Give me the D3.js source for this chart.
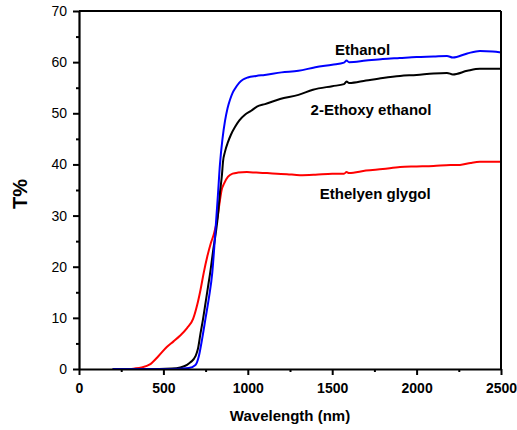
<!DOCTYPE html>
<html>
<head>
<meta charset="utf-8">
<script src="https://cdn.jsdelivr.net/npm/d3@7/dist/d3.min.js"></script>
<style>
  html, body { margin: 0; padding: 0; background: #fff; }
  svg { display: block; font-family: "Liberation Sans", Arial, sans-serif; }
</style>
</head>
<body>
<svg id="chart" width="517" height="430"></svg>
<script>
// Transmittance spectra (T%) of films prepared with different solvents
const ethanolWl = [200, 400, 550, 650, 690, 710, 730, 750, 770, 790, 806, 823, 835, 850, 865, 880, 895, 910, 924, 950, 972, 1000, 1050, 1100, 1200, 1300, 1400, 1500, 1570, 1585, 1600, 1700, 1800, 1900, 2000, 2100, 2180, 2215, 2300, 2375, 2450, 2500];
const ethanolT  = [0, 0, 0, 0.2, 0.8, 2.5, 6, 10, 14, 19, 26, 34, 40, 45, 48.5, 51, 52.7, 54, 54.8, 56, 56.6, 57, 57.3, 57.5, 58, 58.3, 59, 59.5, 59.9, 60.3, 60, 60.3, 60.6, 60.8, 61, 61.1, 61.2, 60.9, 61.7, 62.2, 62.1, 61.9];

const ethoxyWl = [200, 400, 550, 600, 640, 660, 690, 705, 720, 734, 750, 764, 780, 794, 810, 823, 835, 847, 853, 865, 883, 900, 924, 950, 983, 1020, 1054, 1102, 1191, 1300, 1386, 1500, 1570, 1585, 1600, 1700, 1800, 1902, 2000, 2100, 2180, 2215, 2300, 2375, 2500];
const ethoxyT  = [0, 0, 0.1, 0.3, 0.8, 1.3, 2.5, 4, 7, 9.6, 13, 16, 19.5, 23, 26.5, 30, 34.5, 38, 40.5, 42.5, 44.4, 45.8, 47.3, 48.6, 49.7, 50.5, 51.3, 51.8, 52.8, 53.6, 54.6, 55.3, 55.7, 56.2, 55.9, 56.4, 56.9, 57.3, 57.5, 57.8, 57.9, 57.6, 58.3, 58.7, 58.7];

const glycolWl = [200, 300, 330, 370, 420, 470, 520, 560, 598, 640, 676, 700, 720, 740, 760, 780, 800, 820, 835, 845, 860, 883, 910, 942, 995, 1050, 1114, 1232, 1309, 1400, 1500, 1570, 1585, 1600, 1700, 1800, 1902, 2000, 2100, 2200, 2257, 2320, 2375, 2500];
const glycolT  = [0, 0, 0.1, 0.3, 0.9, 2.5, 4.3, 5.4, 6.5, 8, 9.8, 12.5, 15.5, 19, 22, 24.5, 26.5, 29.5, 33, 35, 36.3, 37.6, 38.2, 38.4, 38.5, 38.4, 38.3, 38.1, 37.9, 38, 38.2, 38.2, 38.5, 38.3, 38.8, 39.1, 39.5, 39.6, 39.7, 39.9, 39.9, 40.3, 40.5, 40.5];

const seriesNames  = ["Ethanol", "2-Ethoxy ethanol", "Ethelyen glygol"];
const seriesColors = ["#0000ff", "#000000", "#ff0000"];

const xMajorTicks = [0, 500, 1000, 1500, 2000, 2500];
const xMinorTicks = [250, 750, 1250, 1750, 2250];
const yMajorTicks = [0, 10, 20, 30, 40, 50, 60, 70];
const yMinorTicks = [5, 15, 25, 35, 45, 55, 65];

const svg = d3.select("#chart");
const plotLeft = 79, plotRight = 501, plotTop = 11, plotBottom = 369;

const x = d3.scaleLinear().domain([0, 2500]).range([plotLeft, plotRight]);
const y = d3.scaleLinear().domain([0, 70]).range([plotBottom, plotTop]);

// Curves
const series = [
  { wl: ethanolWl, t: ethanolT },
  { wl: ethoxyWl, t: ethoxyT },
  { wl: glycolWl, t: glycolT }
];
const line = d3.line().x(d => x(d[0])).y(d => y(d[1])).curve(d3.curveMonotoneX);

// draw red first, then black, then blue on top
[2, 1, 0].forEach(i => {
  const s = series[i];
  svg.append("path")
    .datum(s.wl.map((w, k) => [w, s.t[k]]))
    .attr("fill", "none")
    .attr("stroke", seriesColors[i])
    .attr("stroke-width", 2)
    .attr("stroke-linejoin", "round")
    .attr("d", line);
});

// Frame: top and right edges
svg.append("line").attr("x1", plotLeft).attr("x2", plotRight).attr("y1", plotTop).attr("y2", plotTop)
  .attr("stroke", "#000").attr("stroke-width", 2);
svg.append("line").attr("x1", plotRight).attr("x2", plotRight).attr("y1", plotTop).attr("y2", plotBottom)
  .attr("stroke", "#000").attr("stroke-width", 2);

function styleAxis(g) {
  g.select(".domain").attr("stroke-width", 2.2);
  g.selectAll(".tick line").attr("stroke-width", 2);
}

// X axis
const xAxis = svg.append("g").attr("transform", `translate(0,${plotBottom})`)
  .call(d3.axisBottom(x).tickValues(xMajorTicks).tickSize(6).tickPadding(8).tickSizeOuter(0).tickFormat(d3.format("d")));
styleAxis(xAxis);
xAxis.selectAll("text").attr("font-size", 14).attr("font-weight", "bold").attr("fill", "#000")
  .attr("font-family", "Liberation Sans, Arial, sans-serif");
svg.append("g").attr("transform", `translate(0,${plotBottom})`)
  .call(d3.axisBottom(x).tickValues(xMinorTicks).tickSize(3).tickFormat("").tickSizeOuter(0))
  .call(g => { g.select(".domain").remove(); g.selectAll(".tick line").attr("stroke-width", 2); });

// Y axis
const yAxis = svg.append("g").attr("transform", `translate(${plotLeft},0)`)
  .call(d3.axisLeft(y).tickValues(yMajorTicks).tickSize(6).tickPadding(6).tickSizeOuter(0).tickFormat(d3.format("d")));
styleAxis(yAxis);
yAxis.selectAll("text").attr("font-size", 14).attr("fill", "#000")
  .attr("font-family", "Liberation Sans, Arial, sans-serif");
svg.append("g").attr("transform", `translate(${plotLeft},0)`)
  .call(d3.axisLeft(y).tickValues(yMinorTicks).tickSize(3).tickFormat("").tickSizeOuter(0))
  .call(g => { g.select(".domain").remove(); g.selectAll(".tick line").attr("stroke-width", 2); });

// Axis titles
svg.append("text")
  .attr("x", (plotLeft + plotRight) / 2).attr("y", 421)
  .attr("text-anchor", "middle").attr("font-size", 15).attr("font-weight", "bold")
  .text("Wavelength (nm)");
svg.append("text")
  .attr("transform", "translate(27,194) rotate(-90)")
  .attr("text-anchor", "middle").attr("font-size", 20).attr("font-weight", "bold")
  .text("T%");

// Series labels (wavelength, T%) anchor for each label centre
const labelPos = [[1680, 61.3], [1730, 49.7], [1755, 33.3]];
seriesNames.forEach((name, i) => {
  svg.append("text")
    .attr("x", x(labelPos[i][0])).attr("y", y(labelPos[i][1]))
    .attr("text-anchor", "middle").attr("font-size", 15).attr("font-weight", "bold")
    .attr("fill", "#000")
    .text(name);
});
</script>
</body>
</html>
